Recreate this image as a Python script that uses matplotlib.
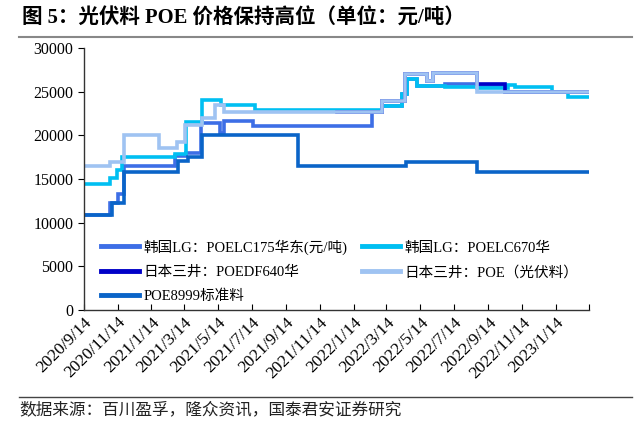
import pandas as pd
import matplotlib.pyplot as plt

plt.rcParams['font.family'] = ['Liberation Serif', 'Noto Sans CJK SC']

end_date = '2023-03-14'

lg175_dates = ['2020-09-14', '2020-10-31', '2020-11-14', '2020-11-25', '2021-02-25', '2021-03-17',
               '2021-04-13', '2021-05-17', '2021-05-25', '2021-07-16', '2022-02-15', '2022-03-06',
               '2022-04-11', '2022-04-20', '2022-05-08', '2022-06-27', '2022-08-24', '2022-10-13']
lg175_vals = [10900, 12200, 13300, 16500, 17600, 18000,
              21400, 20300, 21600, 21100, 22700, 23400,
              24700, 26500, 25700, 25850, 25600, 25000]

lg670_dates = ['2020-09-14', '2020-10-31', '2020-11-13', '2020-11-21', '2021-02-25', '2021-03-17',
               '2021-04-15', '2021-05-19', '2021-07-19', '2022-03-06', '2022-04-11', '2022-04-20',
               '2022-05-08', '2022-06-27', '2022-08-24', '2022-10-19', '2022-11-01', '2023-01-06',
               '2023-02-04']
lg670_vals = [14400, 15100, 16000, 17500, 17900, 21500,
              24000, 23500, 22950, 23400, 24700, 26500,
              25700, 25500, 25400, 25800, 25500, 24950,
              24450]

df640_dates = ['2021-12-14', '2022-03-06', '2022-04-16', '2022-05-26', '2022-06-06', '2022-08-24',
               '2022-10-13']
df640_vals = [22700, 23900, 27000, 26200, 27100, 25900,
              25000]

mitsui_dates = ['2020-09-14', '2020-10-31', '2020-11-25', '2021-01-27', '2021-03-01', '2021-03-15',
                '2021-04-15', '2021-05-08', '2021-05-25', '2022-03-06', '2022-04-16', '2022-05-26',
                '2022-06-06', '2022-08-24']
mitsui_vals = [16500, 16900, 20000, 18500, 19200, 21200,
               22000, 23500, 22650, 23900, 27000, 26200,
               27100, 24950]

poe8999_dates = ['2020-09-14', '2020-11-03', '2020-11-25', '2021-03-03', '2021-03-21', '2021-04-15',
                 '2021-10-05', '2022-04-18', '2022-08-24']
poe8999_vals = [10900, 12200, 15800, 17100, 17500, 20000,
                16500, 17000, 15800]

tick_dates = ['2020-09-14', '2020-11-14', '2021-01-14', '2021-03-14', '2021-05-14', '2021-07-14',
              '2021-09-14', '2021-11-14', '2022-01-14', '2022-03-14', '2022-05-14', '2022-07-14',
              '2022-09-14', '2022-11-14', '2023-01-14', '2023-03-14']
tick_labels = ['2020/9/14', '2020/11/14', '2021/1/14', '2021/3/14', '2021/5/14', '2021/7/14',
               '2021/9/14', '2021/11/14', '2022/1/14', '2022/3/14', '2022/5/14', '2022/7/14',
               '2022/9/14', '2022/11/14', '2023/1/14', '']

series = [
    ('韩国LG：POELC175华东(元/吨)', lg175_dates, lg175_vals, '#3D6EE6'),
    ('韩国LG：POELC670华', lg670_dates, lg670_vals, '#00BFF2'),
    ('日本三井：POEDF640华', df640_dates, df640_vals, '#0000C8'),
    ('日本三井：POE（光伏料）', mitsui_dates, mitsui_vals, '#9FC3F2'),
    ('POE8999标准料', poe8999_dates, poe8999_vals, '#0A64C8'),
]

fig = plt.figure(figsize=(6.4, 4.33), dpi=100)
ax = fig.add_axes([0.131, 0.284, 0.789, 0.605])

handles = {}
for name, d, v, c in series:
    x = pd.to_datetime(d + [end_date])
    y = v + [v[-1]]
    h, = ax.step(x, y, where='post', color=c, lw=2.6, label=name, solid_joinstyle='miter')
    handles[name] = h

ax.set_xlim(pd.Timestamp('2020-09-14'), pd.Timestamp(end_date))
ax.set_ylim(0, 30000)
ax.set_yticks(range(0, 30001, 5000))
ax.set_xticks(pd.to_datetime(tick_dates))
ax.set_xticklabels(tick_labels, rotation=45, ha='right', rotation_mode='anchor', fontsize=12.5)
ax.tick_params(axis='y', labelsize=11.5, direction='out', length=4)
ax.tick_params(axis='x', direction='in', length=4, pad=3)
for s in ['top', 'right']:
    ax.spines[s].set_visible(False)
for s in ['left', 'bottom']:
    ax.spines[s].set_color('#333333')
    ax.spines[s].set_linewidth(1.0)

# legend fills column by column: LG175, DF640, 8999 | LG670, Mitsui POE
order = [series[0][0], series[2][0], series[4][0], series[1][0], series[3][0]]
leg = ax.legend([handles[k] for k in order], order, ncol=2, frameon=False,
                loc='lower left', bbox_to_anchor=(0.008, -0.025), fontsize=10.5,
                handlelength=2.6, handletextpad=0.3, columnspacing=1.0,
                labelspacing=0.75)
for line in leg.get_lines():
    line.set_linewidth(3.5)

fig.text(0.035, 0.957, '图 5：光伏料 POE 价格保持高位（单位：元/吨）', fontsize=14.8,
         fontweight='bold', va='center', ha='left')
fig.add_artist(plt.Line2D([0.03, 0.988], [0.915, 0.915], color='#888888', lw=1.5))
fig.add_artist(plt.Line2D([0.03, 0.988], [0.083, 0.083], color='#444444', lw=1.0))
fig.text(0.03, 0.052, '数据来源：百川盈孚，隆众资讯，国泰君安证券研究', fontsize=12,
         va='center', ha='left', color='#222222')

fig.savefig('out.png', dpi=100)
